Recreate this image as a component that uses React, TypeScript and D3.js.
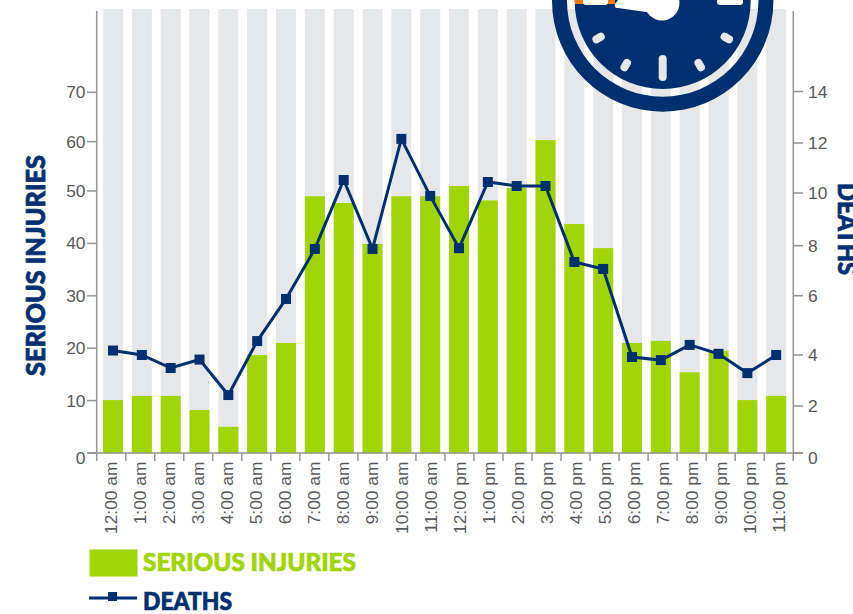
import React from "react";
import * as d3 from "d3";

const categories = ["12:00 am","1:00 am","2:00 am","3:00 am","4:00 am","5:00 am","6:00 am","7:00 am","8:00 am","9:00 am","10:00 am","11:00 am","12:00 pm","1:00 pm","2:00 pm","3:00 pm","4:00 pm","5:00 pm","6:00 pm","7:00 pm","8:00 pm","9:00 pm","10:00 pm","11:00 pm"];
const injuries = [10.1,10.9,10.9,8.2,5,18.7,21,49,47.7,39.9,49,49,51,48.2,50.6,60.3,43.7,39.1,21,21.4,15.4,19.5,10.1,10.9];
const deaths = [4.15,4,3.49,3.82,2.43,4.47,5.89,7.87,10.52,7.87,12.16,9.89,7.9,10.44,10.28,10.28,7.35,7.07,3.92,3.8,4.34,4.04,3.29,4];
const leftTicks = [0,10,20,30,40,50,60,70];
const rightTicks = [0,2,4,6,8,10,12,14];

const BLUE = "#003070";
const GREEN = "#a2d507";
const GREY = "#e6e7e8";
const AXIS = "#939598";
const TEXT = "#58595b";
const FONT = "'Liberation Sans', Arial, sans-serif";
const TITLE = "Lato, sans-serif";

const x = d3.scaleBand<string>().domain(categories).range([98.6, 790.6]);
const barW = 20;
const cx = (c: string) => (x(c) as number) + x.bandwidth() / 2;
const tickX = d3.scaleLinear().domain([0, 24]).range([96.7, 793.2]);
const yL = d3.scaleLinear().domain([0, 50, 70]).range([453, 191, 92.3]);
const yR = d3.scaleLinear().domain(rightTicks).range([453, 406, 355, 295.7, 245.7, 193, 143, 91.5]);
const line = d3.line<number>().x((_, i) => cx(categories[i])).y((d) => yR(d));

const clock = { cx: 662.7, cy: 1, r: 110.7 };
const dial = [30, -30, 60, -60];
const ring = d3.arc()({ innerRadius: 95.7, outerRadius: clock.r, startAngle: 0, endAngle: 2 * Math.PI }) ?? "";

export default function App() {
  return (
    <svg width={853} height={614} style={{ position: "absolute", left: 0, top: 0 }}>
      {categories.map((c) => (
        <rect key={c} x={cx(c) - barW / 2} y={9} width={barW} height={444} fill={GREY} />
      ))}
      {categories.map((c, i) => (
        <rect key={c} x={cx(c) - barW / 2} y={yL(injuries[i])} width={barW} height={453.5 - yL(injuries[i])} fill={GREEN} />
      ))}

      <g stroke={AXIS} strokeWidth={1.5} fill="none">
        <line x1={96.7} x2={96.7} y1={11} y2={453} />
        <line x1={793.3} x2={793.3} y1={11} y2={453} />
        <line x1={88} x2={803} y1={453} y2={453} />
        {leftTicks.map((t) => <line key={t} x1={87} x2={96.7} y1={yL(t)} y2={yL(t)} />)}
        {rightTicks.map((t) => <line key={t} x1={793.3} x2={803} y1={yR(t)} y2={yR(t)} />)}
        {d3.range(25).map((i) => <line key={i} x1={tickX(i)} x2={tickX(i)} y1={453} y2={461} />)}
      </g>

      <g fontFamily={FONT} fontSize={17.4} fill={TEXT}>
        {leftTicks.map((t) => (
          <text key={t} x={85.5} y={yL(t) + (t === 0 ? 5 : 0)} dy="0.35em" textAnchor="end">{t}</text>
        ))}
        {rightTicks.map((t) => (
          <text key={t} x={808} y={yR(t) + (t === 0 ? 5 : 0)} dy="0.35em">{t}</text>
        ))}
        {categories.map((c, i) => (
          <text key={c} transform={`translate(${(tickX(i) + tickX(i + 1)) / 2},461.5) rotate(-90)`} dy="0.35em" textAnchor="end">{c}</text>
        ))}
      </g>

      <path d={line(deaths) ?? ""} fill="none" stroke={BLUE} strokeWidth={3} />
      {categories.map((c, i) => (
        <rect key={c} x={cx(c) - 5} y={yR(deaths[i]) - 5} width={10} height={10} fill={BLUE} />
      ))}

      <path d={ring} transform={`translate(${clock.cx},${clock.cy})`} fill={BLUE} />
      <circle cx={clock.cx} cy={clock.cy} r={88} fill={BLUE} />
      <rect x={clock.cx - 4} y={55} width={8} height={26} rx={4} fill={GREY} />
      {dial.map((a) => (
        <rect key={a} x={clock.cx - 4} y={68.5} width={8} height={13} rx={4} fill={GREY}
          transform={`rotate(${a} ${clock.cx} ${clock.cy})`} />
      ))}
      <rect x={575} y={-8} width={9} height={12} fill="#f47b06" />
      <rect x={607} y={-8} width={8} height={12} fill="#f47b06" />
      <rect x={583} y={-12} width={25} height={17} rx={3} fill="#fff" />
      <rect x={717} y={-12} width={26} height={17} rx={3} fill="#fff" />
      <path d="M622 -5 L615 4 Q614 8 618 8 L646 12 L672 12 L680 -5 Z" fill="#fff" />
      <circle cx={662} cy={3} r={17.5} fill="#fff" />

      <g fontFamily={TITLE} fontWeight={900} strokeWidth={0.7}>
        <text transform="translate(45,376) rotate(-90)" fontSize={26} fill={BLUE} stroke={BLUE} textLength={221} lengthAdjust="spacingAndGlyphs">SERIOUS INJURIES</text>
        <text transform="translate(838,183) rotate(90)" fontSize={26} fill={BLUE} stroke={BLUE} textLength={92} lengthAdjust="spacingAndGlyphs">DEATHS</text>
        <text x={143} y={571} fontSize={24} fill={GREEN} stroke={GREEN} textLength={213} lengthAdjust="spacingAndGlyphs">SERIOUS INJURIES</text>
        <text x={143} y={610} fontSize={24} fill={BLUE} stroke={BLUE} textLength={89} lengthAdjust="spacingAndGlyphs">DEATHS</text>
      </g>
      <rect x={89.5} y={549.5} width={48} height={27} fill={GREEN} />
      <line x1={89} x2={137} y1={598} y2={598} stroke={BLUE} strokeWidth={3} />
      <rect x={108} y={592} width={9} height={9} fill={BLUE} />
    </svg>
  );
}
